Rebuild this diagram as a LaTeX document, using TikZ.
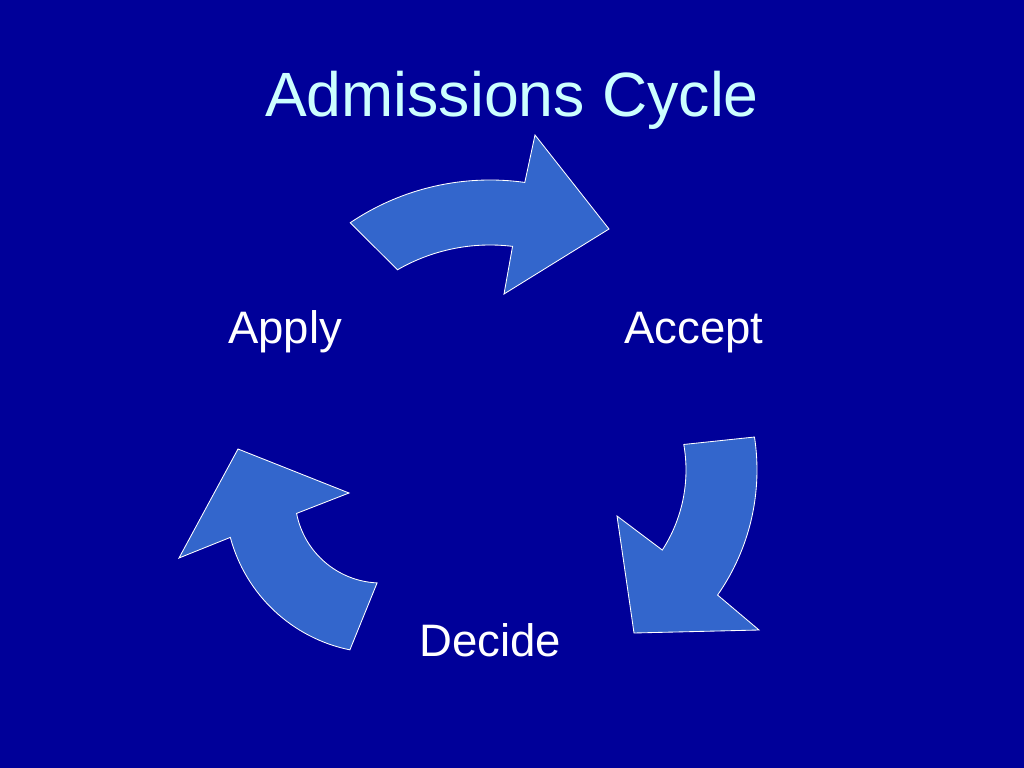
\documentclass[tikz,border=0pt]{standalone}
\usepackage{fontspec}
\setmainfont{Liberation Sans}
\usetikzlibrary{calc}
\definecolor{slidebg}{HTML}{000099}
\definecolor{arrowblue}{HTML}{3366CC}
\definecolor{titlecyan}{HTML}{CCFFFF}
\tikzset{
  cyclearrow/.style={fill=arrowblue, draw=white, line width=0.6pt},
  steplabel/.style={text=white, inner sep=0pt, anchor=base, font=\fontsize{32}{38}\selectfont}
}

\begin{document}
\begin{tikzpicture}[x=0.703125pt, y=-0.703125pt]
		%%%%% START %%%%%
		\fill[slidebg] (0, 0) rectangle (1024, 768);
		
		\node[anchor=base, inner sep=0pt, text=titlecyan, font=\fontsize{44}{53}\selectfont] (title) at (512, 117) {Admissions Cycle};
		
		\coordinate (ctop) at (490, 430);
		\coordinate (cright) at (539, 470);
		\coordinate (cleft) at (381, 497);
		
		\draw[cyclearrow] ($(ctop)+(-124:250)$) arc (-124:-82:250) -- (535, 135) -- (609, 229) -- (504, 294)
			-- ($(ctop)+(-83:185)$) arc (-83:-120:185) -- cycle;
		
		\draw[cyclearrow] ($(cright)+(-8.7:218)$) arc (-8.7:35:218) -- (759, 630) -- (634, 633) -- (617, 516)
			-- ($(cright)+(33:147)$) arc (33:-10:147) -- cycle;
		
		\draw[cyclearrow] ($(cleft)+(101.5:156)$) -- ($(cleft)+(92.6:86)$) arc (92.6:169:86) -- (349, 493) -- (238, 449)
			-- (179, 558) -- ($(cleft)+(165:156)$) arc (165:101.5:156) -- cycle;
		
		\node[steplabel] (apply) at (285, 343) {Apply};
		\node[steplabel] (accept) at (694, 343) {Accept};
		\node[steplabel] (decide) at (490, 656) {Decide};
		%%%%% END %%%%%
\end{tikzpicture}
\end{document}
